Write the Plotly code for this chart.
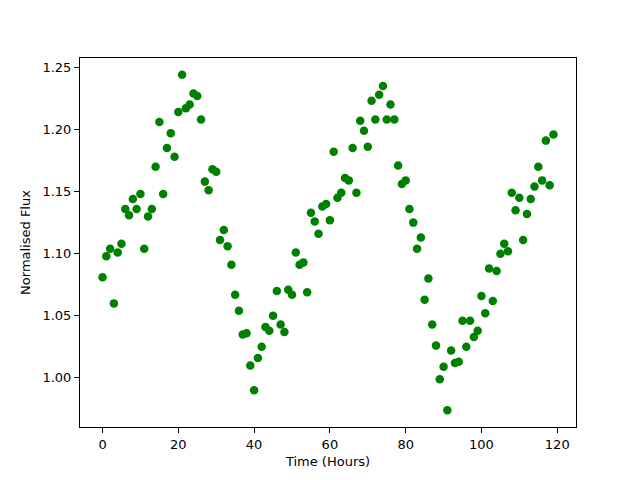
import plotly.graph_objects as go

hours = list(range(120))
flux = [
    1.081, 1.098, 1.104, 1.060, 1.101, 1.108, 1.136, 1.131, 1.144, 1.136,
    1.148, 1.104, 1.130, 1.136, 1.170, 1.206, 1.148, 1.185, 1.197, 1.178,
    1.214, 1.244, 1.217, 1.220, 1.229, 1.227, 1.208, 1.158, 1.151, 1.168,
    1.166, 1.111, 1.119, 1.106, 1.091, 1.067, 1.054, 1.035, 1.036, 1.010,
    0.990, 1.016, 1.025, 1.041, 1.038, 1.050, 1.070, 1.043, 1.037, 1.071,
    1.067, 1.101, 1.091, 1.093, 1.069, 1.133, 1.126, 1.116, 1.138, 1.140,
    1.127, 1.182, 1.145, 1.149, 1.161, 1.159, 1.185, 1.149, 1.207, 1.199,
    1.186, 1.223, 1.208, 1.228, 1.235, 1.208, 1.220, 1.208, 1.171, 1.156,
    1.159, 1.136, 1.125, 1.104, 1.113, 1.063, 1.080, 1.043, 1.026, 0.999,
    1.009, 0.974, 1.022, 1.012, 1.013, 1.046, 1.025, 1.046, 1.033, 1.038,
    1.066, 1.052, 1.088, 1.062, 1.086, 1.100, 1.108, 1.102, 1.149, 1.135,
    1.145, 1.111, 1.132, 1.144, 1.154, 1.170, 1.159, 1.191, 1.155, 1.196,
]
x_ticks = [0, 20, 40, 60, 80, 100, 120]
y_ticks = [1.00, 1.05, 1.10, 1.15, 1.20, 1.25]

fig = go.Figure(go.Scatter(
    x=hours, y=flux, mode="markers",
    marker=dict(color="#008000", size=8.5, line=dict(width=0)),
))

axis_common = dict(
    showgrid=False, zeroline=False, showline=True, linecolor="black",
    linewidth=1, mirror=True, ticks="outside", ticklen=5, tickwidth=1,
    tickcolor="black", tickfont=dict(family="DejaVu Sans", size=13, color="black"),
    title_font=dict(family="DejaVu Sans", size=13, color="black"),
)

fig.update_layout(
    width=640, height=480,
    margin=dict(l=72, r=72, t=50, b=61),
    paper_bgcolor="white", plot_bgcolor="white",
    showlegend=False,
    xaxis=dict(range=[-5.95, 124.95], tickvals=x_ticks,
               title=dict(text="Time (Hours)", standoff=6), **axis_common),
    yaxis=dict(range=[0.9605, 1.2575], tickvals=y_ticks, tickformat=".2f",
               title=dict(text="Normalised Flux", standoff=8), **axis_common),
)

fig.write_html("out.html")
